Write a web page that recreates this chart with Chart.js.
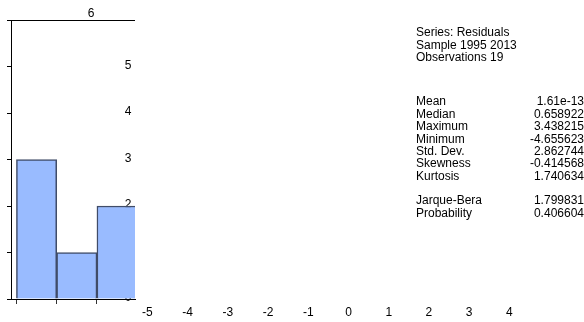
<!DOCTYPE html>
<html>
<head>
<meta charset="utf-8">
<script src="https://cdn.jsdelivr.net/npm/chart.js@4.4.1/dist/chart.umd.min.js"></script>
<style>
  html, body { margin: 0; padding: 0; background: #fff; }
  #wrap { position: relative; width: 584px; height: 322px; }
</style>
</head>
<body>
<div id="wrap"><canvas id="histChart" width="584" height="322"></canvas></div>
<script>
// histogram bins (centres) and counts as seen in the picture
const binCenters = [-7.75, -6.75, -5.75];
const binCounts = [3, 1, 2];
const binEdges = [-8.25, -7.25, -6.25];
const xTickLabels = [-5, -4, -3, -2, -1, 0, 1, 2, 3, 4];
const yTickLabels = [0, 1, 2, 3, 4, 5, 6];

const statsHeader = ['Series: Residuals', 'Sample 1995 2013', 'Observations 19'];
const statNames = ['Mean', 'Median', 'Maximum', 'Minimum', 'Std. Dev.', 'Skewness', 'Kurtosis'];
const statValues = ['1.61e-13', '0.658922', '3.438215', '-4.655623', '2.862744', '-0.414568', '1.740634'];
const testNames = ['Jarque-Bera', 'Probability'];
const testValues = ['1.799831', '0.406604'];

const FONT = '12px "Liberation Sans", Arial, sans-serif';

// y labels sit behind the bars, like in the original export
const yLabelPlugin = {
    id: 'yLabels',
    beforeDatasetsDraw(chart) {
        const ctx = chart.ctx;
        const y = chart.scales.y;
        ctx.save();
        ctx.font = FONT;
        ctx.fillStyle = '#000';
        ctx.textAlign = 'center';
        ctx.textBaseline = 'middle';
        yTickLabels.forEach(v => {
            const py = y.getPixelForValue(v);
            if (v === 6) {
                ctx.fillText(String(v), 91, py - 6);
            } else {
                ctx.fillText(String(v), 128, py - 1);
            }
        });
        ctx.restore();
    }
};

const xLabelPlugin = {
    id: 'xLabels',
    afterDraw(chart) {
        const ctx = chart.ctx;
        const x = chart.scales.x;
        ctx.save();
        ctx.font = FONT;
        ctx.fillStyle = '#000';
        ctx.textAlign = 'center';
        ctx.textBaseline = 'middle';
        xTickLabels.forEach(v => {
            ctx.fillText(String(v), x.getPixelForValue(v), 313);
        });
        ctx.restore();
    }
};

const statsPlugin = {
    id: 'stats',
    afterDraw(chart) {
        const ctx = chart.ctx;
        ctx.save();
        ctx.font = FONT;
        ctx.fillStyle = '#000';
        ctx.textBaseline = 'middle';
        const lh = 12.4;
        let yy = 33;
        statsHeader.forEach(t => {
            ctx.textAlign = 'left';
            ctx.fillText(t, 416, yy);
            yy += lh;
        });
        yy = 102;
        statNames.forEach((t, i) => {
            ctx.textAlign = 'left';
            ctx.fillText(t, 416, yy);
            ctx.textAlign = 'right';
            ctx.fillText(statValues[i], 584, yy);
            yy += lh;
        });
        yy = 201;
        testNames.forEach((t, i) => {
            ctx.textAlign = 'left';
            ctx.fillText(t, 416, yy);
            ctx.textAlign = 'right';
            ctx.fillText(testValues[i], 584, yy);
            yy += lh;
        });
        ctx.restore();
    }
};

const ctx = document.getElementById('histChart').getContext('2d');
new Chart(ctx, {
    type: 'bar',
    data: {
        datasets: [{
            data: binCenters.map((c, i) => ({ x: c, y: binCounts[i] })),
            backgroundColor: '#99bbff',
            borderColor: '#404c68',
            borderWidth: 1.5,
            barPercentage: 1,
            categoryPercentage: 1
        }]
    },
    options: {
        responsive: false,
        animation: false,
        layout: { padding: { top: 20, right: 449, left: 0, bottom: 0 } },
        plugins: {
            legend: { display: false },
            tooltip: { enabled: false },
            title: { display: false }
        },
        scales: {
            x: {
                type: 'linear',
                offset: false,
                min: -8.385,
                max: -5.304,
                afterBuildTicks: s => { s.ticks = binEdges.map(v => ({ value: v })); },
                afterFit: s => { s.height = 23; },
                ticks: { display: false },
                grid: {
                    offset: false,
                    color: 'transparent',
                    tickColor: '#333',
                    tickLength: 5,
                    drawOnChartArea: false
                },
                border: { color: '#000', width: 1 }
            },
            y: {
                min: 0,
                max: 6,
                afterBuildTicks: s => { s.ticks = yTickLabels.map(v => ({ value: v })); },
                afterFit: s => { s.width = 11; },
                ticks: { display: false },
                grid: {
                    color: c => (c.tick && c.tick.value === 6 ? '#000' : 'transparent'),
                    tickColor: '#000',
                    tickLength: 4
                },
                border: { color: '#000', width: 1 }
            }
        }
    },
    plugins: [yLabelPlugin, xLabelPlugin, statsPlugin]
});
</script>
</body>
</html>
